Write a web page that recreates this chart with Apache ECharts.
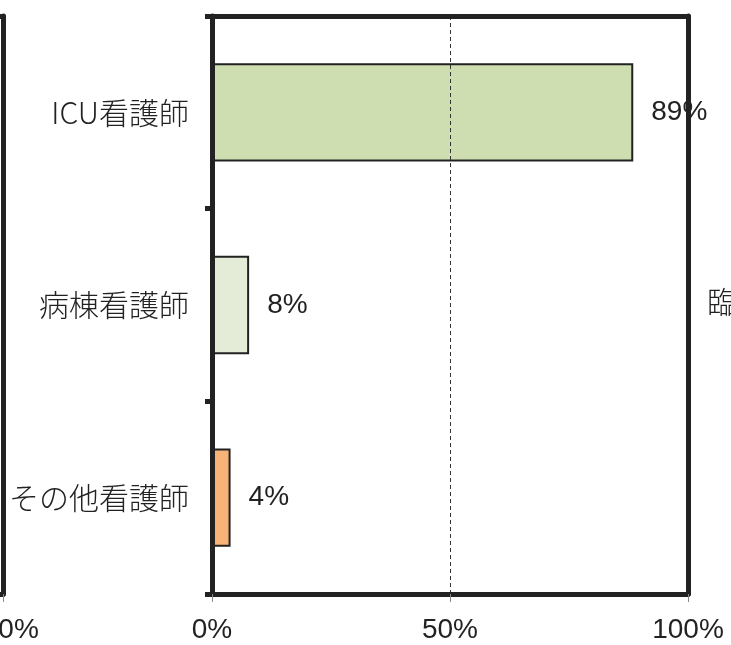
<!DOCTYPE html>
<html>
<head>
<meta charset="utf-8">
<script src="https://cdn.jsdelivr.net/npm/echarts@6/dist/echarts.min.js"></script>
<style>
html,body{margin:0;padding:0;background:#fff;}
#chart{width:731px;height:645px;}
</style>
</head>
<body>
<div id="chart"></div>
<script>
const categories = ['ICU看護師', '病棟看護師', 'その他看護師'];
const values = [88.5, 7.8, 3.9];
const barColors = ['#CFDEB0', '#E4ECD7', '#F8B478'];
const xTicks = [0, 50, 100];
const nextChartLabel = '臨';

const numFont = 'Liberation Sans';
const cjkFont = '"Noto Sans CJK JP"';
const ink = '#222';

const chart = echarts.init(document.getElementById('chart'), null, {renderer: 'canvas'});

function valueAxis(gridIndex, position, withLabels, splitDashed) {
  return {
    type: 'value', gridIndex, position, min: xTicks[0], max: xTicks[xTicks.length - 1],
    interval: xTicks[1] - xTicks[0],
    axisLine: {show: true, onZero: false, lineStyle: {color: ink, width: 5}},
    axisTick: {show: withLabels, length: 8, lineStyle: {color: '#888', width: 1}},
    axisLabel: {show: withLabels, margin: 22, color: ink, fontFamily: numFont, fontSize: 28,
      formatter: v => v + '%'},
    splitLine: {show: splitDashed, lineStyle: {color: '#333', width: 1, type: [4, 3]}},
    z: 10
  };
}

const option = {
  animation: false,
  backgroundColor: '#fff',
  grid: [
    {left: 212, right: 43, top: 16, bottom: 51, outerBoundsMode: 'none', containLabel: false},
    {left: -475, width: 478, top: 16, bottom: 51, outerBoundsMode: 'none', containLabel: false}
  ],
  xAxis: [
    valueAxis(0, 'bottom', true, true),
    valueAxis(0, 'top', false, false),
    valueAxis(1, 'bottom', true, false),
    valueAxis(1, 'top', false, false)
  ],
  yAxis: [
    {
      type: 'category', gridIndex: 0, position: 'left', inverse: true, data: categories,
      axisLine: {show: true, onZero: false, lineStyle: {color: ink, width: 5}},
      axisTick: {show: true, length: 7, lineStyle: {color: ink, width: 5}},
      axisLabel: {margin: 23, color: ink, fontFamily: cjkFont, fontSize: 30, fontWeight: 300},
      z: 10
    },
    {
      type: 'category', gridIndex: 0, position: 'right', inverse: true, data: categories,
      axisLine: {show: true, onZero: false, lineStyle: {color: ink, width: 5}},
      axisTick: {show: false}, axisLabel: {show: false},
      z: 10
    },
    {
      type: 'value', gridIndex: 1, position: 'right', min: 0, max: 1,
      axisLine: {show: true, onZero: false, lineStyle: {color: ink, width: 5}},
      axisTick: {show: false}, axisLabel: {show: false}, splitLine: {show: false},
      z: 10
    }
  ],
  series: [
    {
      type: 'bar', xAxisIndex: 0, yAxisIndex: 0,
      barCategoryGap: '49%',
      data: values.map((v, i) => ({
        value: v,
        itemStyle: {color: barColors[i], borderColor: ink, borderWidth: 2}
      })),
      label: {
        show: true, position: 'right', distance: 18, color: ink,
        fontFamily: numFont, fontSize: 28,
        formatter: p => Math.round(p.value) + '%'
      },
      z: 2
    }
  ],
  graphic: [
    {
      type: 'text', left: 707, top: 287,
      style: {text: nextChartLabel, fill: ink, font: '300 30px "Noto Sans CJK JP"'}
    }
  ]
};
chart.setOption(option);
</script>
</body>
</html>
